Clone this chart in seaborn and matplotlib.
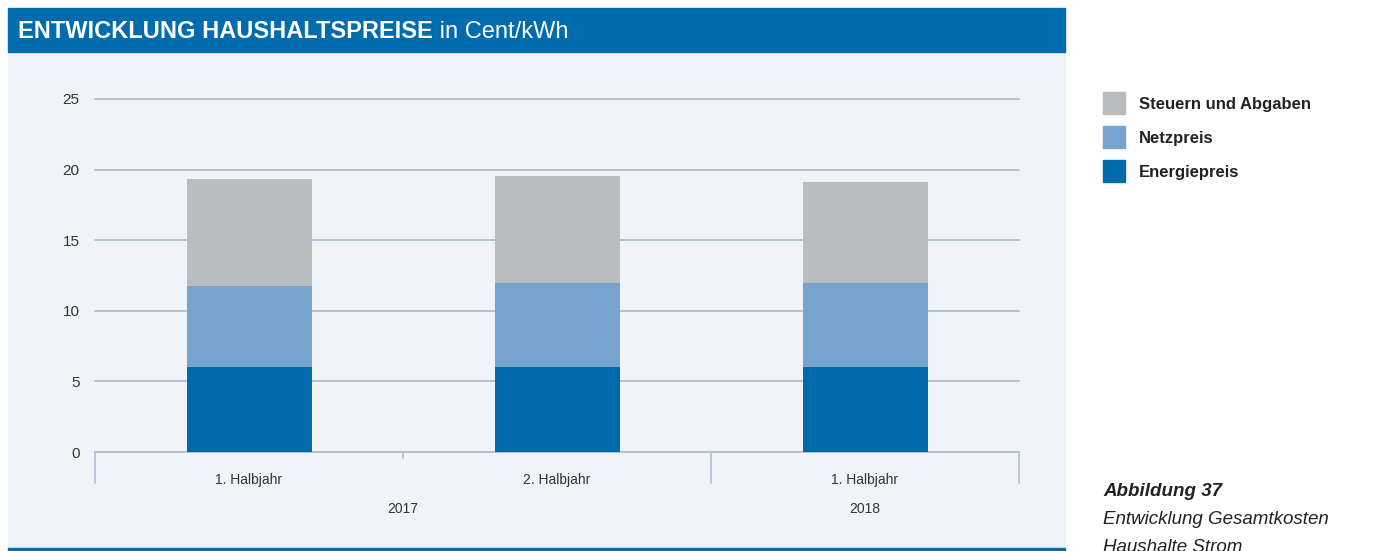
import pandas as pd
import seaborn as sns
import matplotlib.pyplot as plt
from matplotlib.patches import Rectangle
from matplotlib import font_manager

halbjahr = ["1. Halbjahr", "2. Halbjahr", "1. Halbjahr"]
jahre = ["2017", "2018"]
energiepreis = [6.0, 6.0, 6.0]
netzpreis = [5.76, 5.97, 6.0]
steuern = [7.57, 7.58, 7.12]

serien = ["Steuern und Abgaben", "Netzpreis", "Energiepreis"]
farben = {"Steuern und Abgaben": "#BBBCC0", "Netzpreis": "#77A3CF", "Energiepreis": "#006AAD"}

df = pd.DataFrame({
    "pos": ["A", "B", "C"],
    "Energiepreis": energiepreis,
    "Netzpreis": netzpreis,
    "Steuern und Abgaben": steuern,
})
df["netz_cum"] = df["Energiepreis"] + df["Netzpreis"]
df["total"] = df["netz_cum"] + df["Steuern und Abgaben"]

sns.set_style("white")
names = {f.name for f in font_manager.fontManager.ttflist}
narrow = "Liberation Sans Narrow" if "Liberation Sans Narrow" in names else "Liberation Sans"
plt.rcParams["font.family"] = ["Liberation Sans", "DejaVu Sans"]

W, H = 1375, 551
fig = plt.figure(figsize=(W / 100, H / 100), dpi=100)

def fx(px):
    return px / W

def fy(py):
    return 1 - py / H

# panel background, title band, bottom rule
fig.patches.append(Rectangle((fx(8), fy(548)), fx(1057), (548 - 52) / H,
                             transform=fig.transFigure, color="#F0F4F9", zorder=-2))
fig.patches.append(Rectangle((fx(8), fy(52)), fx(1057), 44 / H,
                             transform=fig.transFigure, color="#006BAD", zorder=-2))
fig.patches.append(Rectangle((fx(8), fy(551)), fx(1057), 3 / H,
                             transform=fig.transFigure, color="#006BAD", zorder=-2))

t1 = fig.text(fx(18), fy(31), "ENTWICKLUNG HAUSHALTSPREISE", color="white",
              fontsize=17, fontweight="bold", family=[narrow, "DejaVu Sans"], va="center")
fig.canvas.draw()
t2 = fig.text(0, 0, " in Cent/kWh", color="white", fontsize=17,
              family=[narrow, "DejaVu Sans"], va="baseline")
bb = t1.get_window_extent()
t2.set_position((bb.x1 / W, bb.y0 / H + 4 / H))

ax = fig.add_axes([fx(95), fy(452), fx(1019 - 95), (452 - 99) / H], zorder=2)
ax.set_facecolor("none")

bw = 125 / 308
sns.barplot(data=df, x="pos", y="total", color=farben["Steuern und Abgaben"],
            width=bw, saturation=1, linewidth=0, ax=ax, zorder=3)
sns.barplot(data=df, x="pos", y="netz_cum", color=farben["Netzpreis"],
            width=bw, saturation=1, linewidth=0, ax=ax, zorder=3)
sns.barplot(data=df, x="pos", y="Energiepreis", color=farben["Energiepreis"],
            width=bw, saturation=1, linewidth=0, ax=ax, zorder=3)

ax.set_ylim(0, 25)
ax.set_xlim(-0.5, 2.5)
ax.set_yticks([0, 5, 10, 15, 20, 25])
ax.yaxis.grid(True, color="#A9B9D4", linewidth=1.2, zorder=0)
for gl in ax.get_ygridlines():
    gl.set_clip_on(False)
ax.set_axisbelow(True)
for s in ["top", "right", "left"]:
    ax.spines[s].set_visible(False)
ax.spines["bottom"].set_color("#B3C0D6")
ax.spines["bottom"].set_linewidth(1.2)
ax.tick_params(axis="y", length=0, pad=11, labelsize=11, labelcolor="#333333")
ax.set_xticks([])
ax.set_xlabel("")
ax.set_ylabel("")

# category separators
trans = ax.get_xaxis_transform()
for x, depth in [(-0.5, 31), (0.5, 6), (1.5, 31), (2.5, 31)]:
    ax.plot([x, x], [0, -depth / (452 - 99)], transform=trans, color="#B3C0D6",
            lw=1.2, clip_on=False)
for i, lab in enumerate(halbjahr):
    ax.text(i, -28 / (452 - 99), lab, transform=trans, ha="center", va="center",
            fontsize=10, color="#333333")
for x, lab in zip([0.5, 2], jahre):
    ax.text(x, -57 / (452 - 99), lab, transform=trans, ha="center", va="center",
            fontsize=10, color="#333333")

# legend
for i, name in enumerate(serien):
    top = 92 + i * 34
    fig.patches.append(Rectangle((fx(1103), fy(top + 22)), fx(22), 22 / H,
                                 transform=fig.transFigure, color=farben[name]))
    fig.text(fx(1139), fy(top + 12), name, fontsize=12, fontweight="bold",
             color="#222222", va="center")

# caption
fig.text(fx(1103), fy(491), "Abbildung 37", fontsize=13.5, fontweight="bold",
         style="italic", color="#222222", va="center")
fig.text(fx(1103), fy(520), "Entwicklung Gesamtkosten", fontsize=13.5,
         style="italic", color="#222222", va="center")
fig.text(fx(1103), fy(548), "Haushalte Strom", fontsize=13.5,
         style="italic", color="#222222", va="center")

plt.savefig("out.png", dpi=100)
